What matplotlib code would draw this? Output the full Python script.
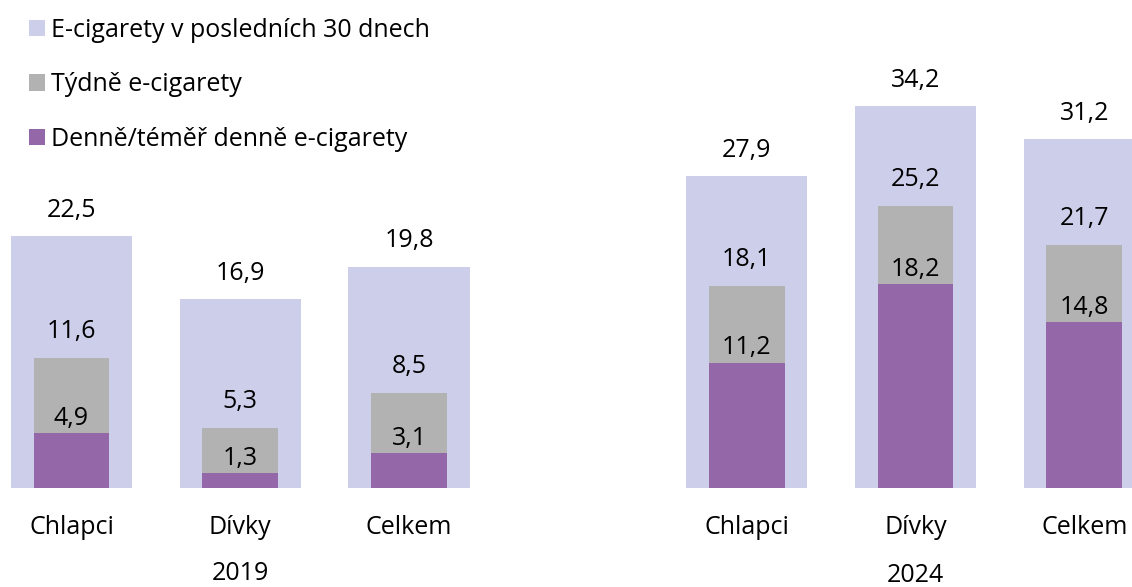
#!/usr/bin/env python3
"""E-cigarette use among pupils, 2019 vs 2024 (overlapping bar chart)."""

import matplotlib
matplotlib.use('Agg')
import matplotlib.pyplot as plt

# Data
years = ['2019', '2024']
groups = ['Chlapci', 'Dívky', 'Celkem']
last_30_days = [22.5, 16.9, 19.8, 27.9, 34.2, 31.2]
weekly = [11.6, 5.3, 8.5, 18.1, 25.2, 21.7]
daily = [4.9, 1.3, 3.1, 11.2, 18.2, 14.8]
series_labels = ['E-cigarety v posledních 30 dnech',
                 'Týdně e-cigarety',
                 'Denně/téměř denně e-cigarety']

COLORS = ['#CDCEEA', '#B2B2B2', '#9468A8']

plt.rcParams['font.family'] = ['Open Sans', 'DejaVu Sans']
FS = 18

W, H = 1132, 587
fig = plt.figure(figsize=(W / 100, H / 100), dpi=100)

base_px = 487.5
px_per_unit = 11.16
unit_px = 168.8
first_px = 71.5
ax = fig.add_axes([0, (H - base_px) / H, 1, base_px / H])
ax.set_ylim(0, base_px / px_per_unit)
ax.set_xlim(-first_px / unit_px, (W - first_px) / unit_px)
ax.axis('off')

# positions 0,1,2 for 2019 and 4,5,6 for 2024 (gap between years)
xpos = [0, 1, 2, 4, 5, 6]

b_outer = ax.bar(xpos, last_30_days, width=0.72, color=COLORS[0], label=series_labels[0])
b_week = ax.bar(xpos, weekly, width=0.45, color=COLORS[1], label=series_labels[1])
b_day = ax.bar(xpos, daily, width=0.45, color=COLORS[2], label=series_labels[2])


def fmt(v):
    return f'{v:.1f}'.replace('.', ',')


for bars, vals, off in [(b_outer, last_30_days, 18.5), (b_week, weekly, 19), (b_day, daily, 10.5)]:
    for rect, v in zip(bars, vals):
        ax.annotate(fmt(v), (rect.get_x() + rect.get_width() / 2, v),
                    xytext=(0, off), textcoords='offset points',
                    ha='center', va='center', fontsize=FS, color='black')

# category labels and year labels
for x, name in zip(xpos, groups * 2):
    ax.annotate(name, (x, 0), xytext=(0, -29), textcoords='offset points',
                ha='center', va='center', fontsize=FS, annotation_clip=False)
for x, year, dy in [(1, years[0], -62), (5, years[1], -63)]:
    ax.annotate(year, (x, 0), xytext=(0, dy), textcoords='offset points',
                ha='center', va='center', fontsize=FS, annotation_clip=False)

leg = ax.legend(handles=[b_outer, b_week, b_day], loc='upper left',
                bbox_to_anchor=(29 / W, 1 - 18 / H), bbox_transform=fig.transFigure,
                frameon=False, fontsize=FS, handlelength=0.62, handleheight=0.62,
                handletextpad=0.25, labelspacing=1.17, borderaxespad=0, borderpad=0)

fig.savefig('out.png', dpi=100)
